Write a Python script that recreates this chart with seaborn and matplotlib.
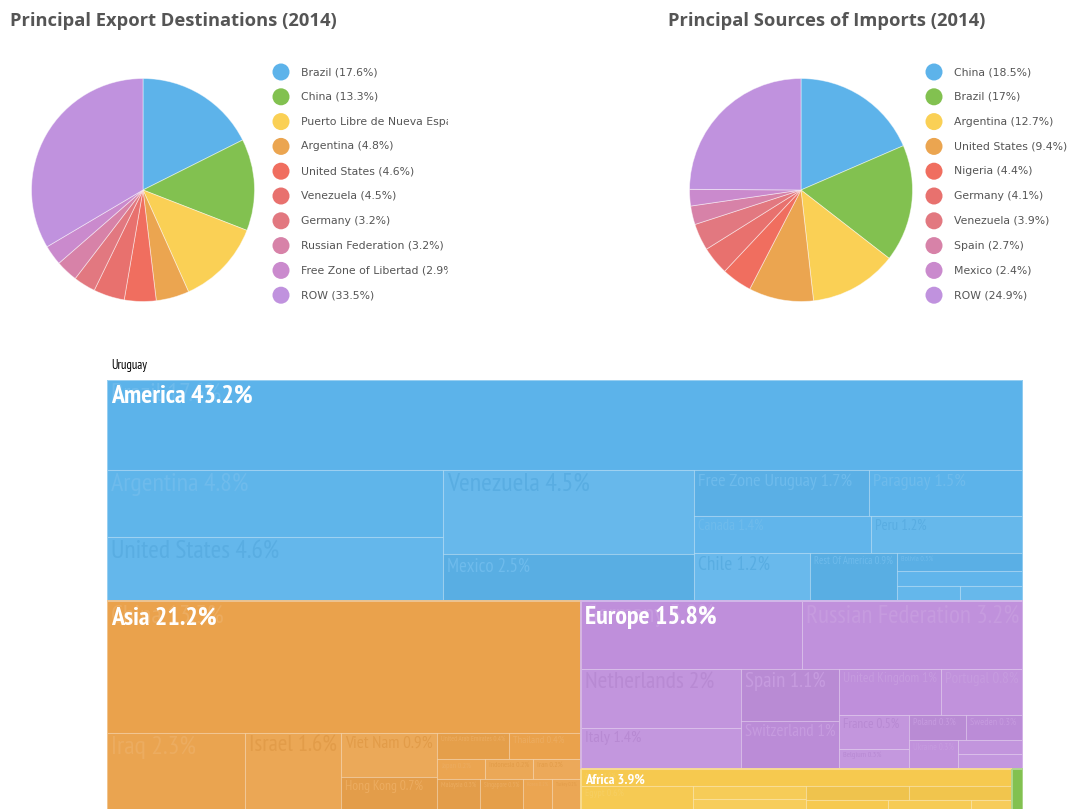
import matplotlib
matplotlib.use("Agg")
import matplotlib.pyplot as plt
import matplotlib.colors as mcolors
from matplotlib import font_manager as fm
from matplotlib.patches import Rectangle
import numpy as np
import pandas as pd
import seaborn as sns

# ---------------- data ----------------
export_names = ["Brazil", "China", "Puerto Libre de Nueva Esparta", "Argentina", "United States",
                "Venezuela", "Germany", "Russian Federation", "Free Zone of Libertad", "ROW"]
export_share = [17.6, 13.3, 12.4, 4.8, 4.6, 4.5, 3.2, 3.2, 2.9, 33.5]

import_names = ["China", "Brazil", "Argentina", "United States", "Nigeria", "Germany",
                "Venezuela", "Spain", "Mexico", "ROW"]
import_share = [18.5, 17, 12.7, 9.4, 4.4, 4.1, 3.9, 2.7, 2.4, 24.9]

pie_colors = ["#5db3ea", "#82c150", "#fad055", "#eba550", "#f06e5f",
              "#e8716e", "#e27880", "#d782a8", "#ca8acd", "#c092de"]

treemap_title = "Uruguay"

region_names = ["America", "Asia", "Europe", "Africa", "Oceania", "Other"]
region_colors = ["#5cb3ea", "#eaa24c", "#bf8fdb", "#f6c94f", "#82c150", "#b9b9b9"]

america_names = ["Brazil", "Argentina", "United States", "Venezuela", "Mexico",
                 "Free Zone Uruguay", "Paraguay", "Canada", "Peru", "Chile",
                 "Rest Of America", "Bolivia", "Colombia", "Cuba", "Ecuador"]
america_share = [17.6, 4.8, 4.6, 4.5, 2.5, 1.7, 1.5, 1.4, 1.2, 1.2, 0.9, 0.5, 0.4, 0.2, 0.2]

asia_names = ["China", "Iraq", "Israel", "Viet Nam", "Hong Kong", "United Arab Emirates",
              "Thailand", "Japan", "Indonesia", "Iran", "Malaysia", "Singapore", "Korea", "Turkey"]
asia_share = [13.3, 2.3, 1.6, 0.9, 0.7, 0.4, 0.4, 0.2, 0.2, 0.2, 0.3, 0.3, 0.2, 0.2]

europe_names = ["Germany", "Russian Federation", "Netherlands", "Italy", "Spain", "Switzerland",
                "United Kingdom", "Portugal", "France", "Belgium", "Poland", "Sweden",
                "Ukraine", "Greece", "Denmark"]
europe_share = [3.2, 3.2, 2.0, 1.4, 1.1, 1.0, 1.0, 0.8, 0.5, 0.3, 0.3, 0.3, 0.3, 0.2, 0.2]

africa_names = ["Algeria", "Egypt", "Morocco", "South Africa", "Nigeria", "Libya",
                "Senegal", "Angola", "Gabon"]
africa_share = [1.6, 0.6, 0.3, 0.3, 0.3, 0.3, 0.2, 0.2, 0.1]

oceania_names = ["Australia"]
oceania_share = [0.1]

other_names = ["Other"]
other_share = [15.8]

# nesting of the treemap ("h" = side by side, "v" = stacked), indices into the lists above
region_layout = ("v", [0, ("h", [1, ("v", [2, ("h", [3, 4])])]), 5])
america_layout = ("v", [0, ("h", [("v", [1, 2]), ("v", [3, 4]),
                                  ("v", [("h", [5, 6]), ("h", [7, 8]),
                                         ("h", [9, 10, ("v", [11, 12, ("h", [13, 14])])])])])])
asia_layout = ("v", [0, ("h", [1, 2, ("v", [3, 4]),
                               ("v", [("h", [5, 6]), ("h", [7, 8, 9]), ("h", [10, 11, 12, 13])])])])
europe_layout = ("v", [("h", [0, 1]),
                       ("h", [("v", [2, 3]), ("v", [4, 5]),
                              ("v", [("h", [6, 7]),
                                     ("h", [("v", [8, 9]),
                                            ("v", [("h", [10, 11]), ("h", [12, ("v", [13, 14])])])])])])])
africa_layout = ("v", [0, ("h", [1, ("v", [2, 3]), ("v", [("h", [4, 5]), ("h", [6, 7, 8])])])])
single_layout = ("v", [0])

region_children = [(america_names, america_share, america_layout),
                   (asia_names, asia_share, asia_layout),
                   (europe_names, europe_share, europe_layout),
                   (africa_names, africa_share, africa_layout),
                   (oceania_names, oceania_share, single_layout),
                   (other_names, other_share, single_layout)]

# ---------------- style ----------------
sns.set_theme(style="white")
plt.rcParams["font.family"] = ["DejaVu Sans"]

# pick a narrow sans for the treemap if one is installed
_names = {f.name for f in fm.fontManager.ttflist}
_cond = {f.name for f in fm.fontManager.ttflist if str(f.stretch) in ("condensed", "semi-condensed", "extra-condensed", "75", "87")}
NARROW = ["Roboto"]
NARROW_STRETCH = "normal"
for cand in ["PT Sans Narrow", "Roboto Condensed", "Liberation Sans Narrow", "Open Sans Condensed",
             "Noto Sans Condensed", "Arial Narrow", "DejaVu Sans Condensed"]:
    if cand in _names:
        NARROW = [cand]
        break
else:
    for cand in ["Noto Sans", "DejaVu Sans", "Open Sans", "Roboto"]:
        if cand in _cond:
            NARROW = [cand]
            NARROW_STRETCH = "condensed"
            break
NARROW = NARROW + ["DejaVu Sans"]

TITLE_FONT = ["Open Sans", "DejaVu Sans"]
GREY = "#555555"

W_PX, H_PX = 1070, 809
fig = plt.figure(figsize=(W_PX / 100, H_PX / 100), dpi=100)
fig.patch.set_facecolor("white")
renderer = fig.canvas.get_renderer()


def fig_rect(left, top, width, height):
    return [left / W_PX, 1 - (top + height) / H_PX, width / W_PX, height / H_PX]


# ---------------- pies ----------------
def draw_pie(title, names, values, title_x, cx, leg_left, leg_width):
    fig.text(title_x / W_PX, 1 - 21 / H_PX, title, fontsize=13.2, fontweight="bold",
             color=GREY, va="center", ha="left", family=TITLE_FONT)
    r = 111.5
    ax = fig.add_axes(fig_rect(cx - r, 190 - r, 2 * r, 2 * r))
    cols = sns.color_palette(pie_colors, len(values))
    ax.pie(values, colors=cols, startangle=90, counterclock=False, radius=1,
           wedgeprops=dict(edgecolor=(1, 1, 1, 0.5), linewidth=0.6))
    ax.set_xlim(-1, 1)
    ax.set_ylim(-1, 1)
    ax.set_aspect("equal")
    ax.axis("off")

    step = 24.8
    n = len(names)
    lax = fig.add_axes(fig_rect(leg_left, 72 - step / 2, leg_width, step * n))
    df = pd.DataFrame({"x": [11.0] * n, "y": list(range(n)), "name": names})
    sns.scatterplot(data=df, x="x", y="y", hue="name", hue_order=names, palette=cols,
                    s=150, edgecolor="none", legend=False, ax=lax)
    for i, (nm, v) in enumerate(zip(names, values)):
        lax.text(31, i, f"{nm} ({v:g}%)", fontsize=7.8, color=GREY, va="center", ha="left",
                 clip_on=True)
    lax.set_xlim(0, leg_width)
    lax.set_ylim(n - 0.5, -0.5)
    lax.axis("off")


draw_pie("Principal Export Destinations (2014)", export_names, export_share, 10, 143, 270, 178)
draw_pie("Principal Sources of Imports (2014)", import_names, import_share, 668, 801, 923, 147)

# ---------------- treemap ----------------
TM_LEFT, TM_TOP, TM_W, TM_H = 107, 380, 916, 512
tax = fig.add_axes(fig_rect(TM_LEFT, TM_TOP, TM_W, TM_H))
tax.set_xlim(0, 1)
tax.set_ylim(1, 0)
tax.axis("off")
fig.text((TM_LEFT + 4) / W_PX, 1 - 365 / H_PX, treemap_title, fontsize=9, color="black",
         va="center", ha="left", family=NARROW, fontstretch=NARROW_STRETCH)


def total(node, vals):
    if isinstance(node, int):
        return vals[node]
    return sum(total(k, vals) for k in node[1])


def layout(node, vals, x0, y0, x1, y1, out):
    if isinstance(node, int):
        out[node] = (x0, y0, x1, y1)
        return
    orient, kids = node
    sums = [total(k, vals) for k in kids]
    tot = sum(sums)
    pos = x0 if orient == "h" else y0
    for k, s in zip(kids, sums):
        if orient == "h":
            w = (x1 - x0) * s / tot
            layout(k, vals, pos, y0, pos + w, y1, out)
            pos += w
        else:
            h = (y1 - y0) * s / tot
            layout(k, vals, x0, pos, x1, pos + h, out)
            pos += h


def shade(color, amt):
    c = np.array(mcolors.to_rgb(color))
    if amt >= 0:
        c = c + (1 - c) * amt
    else:
        c = c * (1 + amt)
    return tuple(np.clip(c, 0, 1))


def fitted_text(x, y, s, fpx, max_w, clip_patch=None, **kw):
    t = tax.text(x, y, s, fontsize=fpx * 0.72, family=NARROW, fontstretch=NARROW_STRETCH,
                 ha="left", va="top", **kw)
    w = t.get_window_extent(renderer).width
    if w > max_w:
        fpx = fpx * max_w / w
        t.set_fontsize(fpx * 0.72)
    if clip_patch is not None:
        t.set_clip_path(clip_patch)
        t.set_clip_on(True)
    return t, fpx


shade_cycle = [0.0, 0.02, 0.05, 0.07, -0.03, -0.02, 0.0, 0.03, 0.06, 0.08, -0.03, -0.02, 0.03, 0.05, 0.07]

region_vals = [sum(ch[1]) for ch in region_children]
region_rects = {}
layout(region_layout, region_vals, 0, 0, 1, 1, region_rects)

for ri, rname in enumerate(region_names):
    base = region_colors[ri]
    rx0, ry0, rx1, ry1 = region_rects[ri]
    names, vals, lay = region_children[ri]
    leaf_rects = {}
    layout(lay, vals, rx0, ry0, rx1, ry1, leaf_rects)
    for li, nm in enumerate(names):
        x0, y0, x1, y1 = leaf_rects[li]
        s_amt = shade_cycle[li % len(shade_cycle)]
        patch = Rectangle((x0, y0), x1 - x0, y1 - y0, facecolor=shade(base, s_amt),
                          edgecolor=(1, 1, 1, 0.14), linewidth=0.8)
        tax.add_patch(patch)
        wpx, hpx = (x1 - x0) * TM_W, (y1 - y0) * TM_H
        lab = f"{nm} {vals[li]:g}%"
        fpx = min(26, 0.4 * hpx)
        label_col = shade(base, -0.035) if s_amt >= 0.04 else shade(base, 0.11)
        if fpx >= 6 and len(names) > 1 and wpx > 12:
            fitted_text(x0 + 4 / TM_W, y0 + 3 / TM_H, lab, fpx, wpx - 8, clip_patch=patch,
                        color=label_col)
    # region outline and header
    tax.add_patch(Rectangle((rx0, ry0), rx1 - rx0, ry1 - ry0, facecolor="none",
                            edgecolor=shade(base, 0.35), linewidth=1.3))
    rw, rh = (rx1 - rx0) * TM_W, (ry1 - ry0) * TM_H
    hpx = min(26, 0.34 * rh)
    if rw > 40:
        fitted_text(rx0 + 4 / TM_W, ry0 + 5 / TM_H, f"{rname} {region_vals[ri]:.1f}%", hpx,
                    rw - 8, color="white", fontweight="bold")

fig.savefig("out.png", dpi=100)
